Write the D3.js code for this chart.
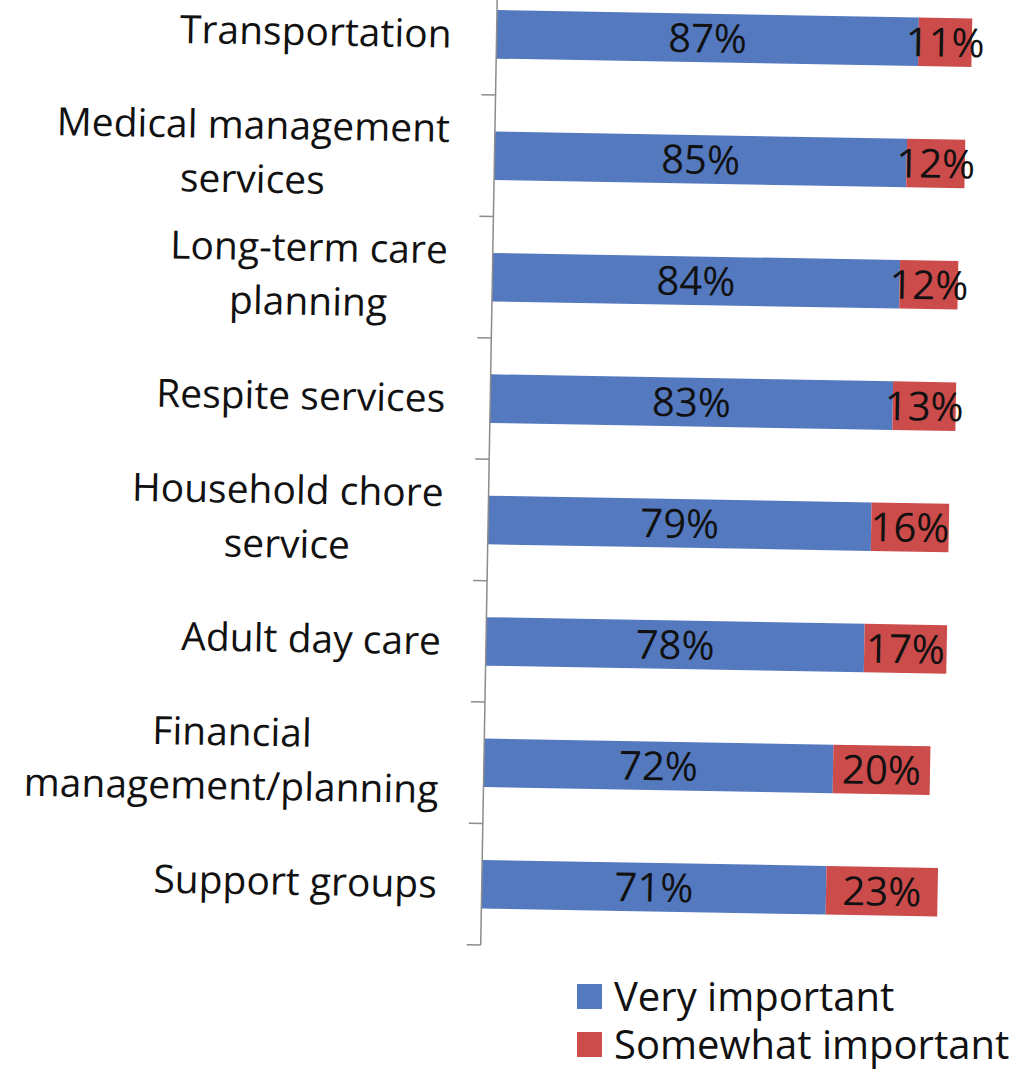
<!DOCTYPE html>
<html>
<head>
<meta charset="utf-8">
<script src="https://cdn.jsdelivr.net/npm/d3@7"></script>
<style>
  html, body { margin: 0; padding: 0; background: #fff; }
  svg { display: block; }
  text { font-family: "Open Sans", sans-serif; fill: #111; }
</style>
</head>
<body>
<svg id="chart" width="1020" height="1072"></svg>
<script>
// Importance of caregiver support services
const categories = [
  "Transportation",
  "Medical management\nservices",
  "Long-term care\nplanning",
  "Respite services",
  "Household chore\nservice",
  "Adult day care",
  "Financial\nmanagement/planning",
  "Support groups"
];
const veryImportant     = [87, 85, 84, 83, 79, 78, 72, 71];
const somewhatImportant = [11, 12, 12, 13, 16, 17, 20, 23];
const seriesNames  = ["Very important", "Somewhat important"];
const seriesColors = ["#5479bf", "#cc4b4b"];

const svg = d3.select("#chart");
const axisX = 489;
const plotTop = -26.4, plotBottom = 945;

// the plot sits slightly tilted
const g = svg.append("g").attr("transform", "rotate(1 489 470)");

const x = d3.scaleLinear().domain([0, 100]).range([axisX, axisX + 485]);
const y = d3.scaleBand().domain(categories).range([plotTop, plotBottom])
  .paddingInner(0.6).paddingOuter(0.3);

const rows = categories.map((c, i) => ({
  cat: c,
  parts: [
    { key: 0, x0: 0, x1: veryImportant[i], v: veryImportant[i] },
    { key: 1, x0: veryImportant[i], x1: veryImportant[i] + somewhatImportant[i], v: somewhatImportant[i] }
  ]
}));

// stacked bars
const row = g.selectAll("g.row").data(rows).join("g").attr("class", "row");
row.selectAll("rect").data(d => d.parts.map(p => ({ ...p, cat: d.cat }))).join("rect")
  .attr("x", d => x(d.x0))
  .attr("width", d => x(d.x1) - x(d.x0))
  .attr("y", d => y(d.cat))
  .attr("height", y.bandwidth())
  .attr("fill", d => seriesColors[d.key]);

// value labels, centred in each segment
row.selectAll("text.val").data(d => d.parts.map(p => ({ ...p, cat: d.cat }))).join("text")
  .attr("class", "val")
  .attr("x", d => (x(d.x0) + x(d.x1)) / 2)
  .attr("y", d => y(d.cat) + y.bandwidth() / 2)
  .attr("dy", "0.36em")
  .attr("text-anchor", "middle")
  .attr("font-size", 40)
  .text(d => d.v + "%");

// category axis: line with ticks at band boundaries
const step = y.step();
const bounds = d3.range(1, categories.length + 1).map(i => plotTop + i * step);
g.append("line")
  .attr("x1", axisX).attr("x2", axisX)
  .attr("y1", -60).attr("y2", plotBottom)
  .attr("stroke", "#8c8c8c").attr("stroke-width", 1.5);
g.selectAll("line.tick").data(bounds).join("line")
  .attr("class", "tick")
  .attr("x1", axisX - 14).attr("x2", axisX)
  .attr("y1", d => d).attr("y2", d => d)
  .attr("stroke", "#8c8c8c").attr("stroke-width", 1.5);

// category labels: lines centred within a right-aligned block
const labelRight = 444;
const lineH = 54;
categories.forEach(c => {
  const lines = c.split("\n");
  const t = g.append("text")
    .attr("font-size", 39)
    .attr("text-anchor", "middle");
  const cy = y(c) + y.bandwidth() / 2;
  lines.forEach((ln, j) => {
    t.append("tspan")
      .attr("x", 0)
      .attr("y", cy + (j - (lines.length - 1) / 2) * lineH)
      .attr("dy", "0.36em")
      .text(ln);
  });
  const w = t.node().getBBox().width;
  t.selectAll("tspan").attr("x", labelRight - w / 2);
});

// legend
const legend = svg.append("g");
seriesNames.forEach((s, i) => {
  const baseline = 1011 + i * 48;
  legend.append("rect")
    .attr("x", 577).attr("y", baseline - 27)
    .attr("width", 25).attr("height", 25)
    .attr("fill", seriesColors[i]);
  legend.append("text")
    .attr("x", 614).attr("y", baseline)
    .attr("font-size", 40)
    .text(s);
});
</script>
</body>
</html>
